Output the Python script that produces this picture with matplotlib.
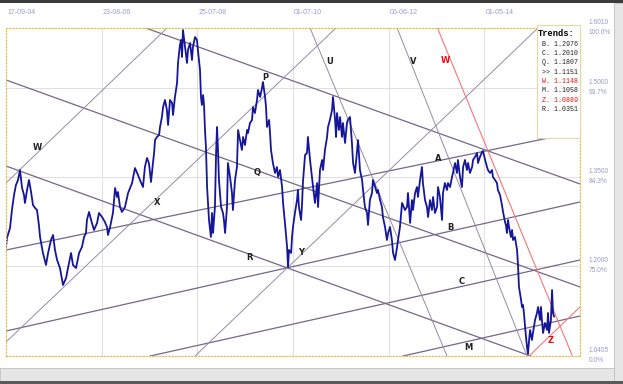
import matplotlib
matplotlib.use("Agg")
import matplotlib.pyplot as plt
from matplotlib.patches import Rectangle

# daily closes: (bar number since 17-09-04, close)
closes = [
    (0, 1.2320), (5, 1.2471), (21, 1.2639), (31, 1.2942), (42, 1.3195), (52, 1.3363),
    (63, 1.3447), (73, 1.3615), (84, 1.3312), (94, 1.3195), (99, 1.3060), (110, 1.3279),
    (120, 1.3447), (131, 1.3245), (141, 1.3026), (152, 1.2976), (162, 1.2942), (172, 1.2690),
    (178, 1.2488), (193, 1.2219), (209, 1.2017), (220, 1.2219), (235, 1.2437), (246, 1.2522),
    (256, 1.2269), (267, 1.2101), (282, 1.1966), (298, 1.1680), (314, 1.1798), (324, 1.1966),
    (340, 1.2219), (350, 1.2017), (366, 1.1966), (382, 1.2219), (397, 1.2320), (408, 1.2488),
    (418, 1.2555), (423, 1.2774), (434, 1.2909), (449, 1.2724), (460, 1.2606), (476, 1.2724),
    (486, 1.2892), (502, 1.2824), (517, 1.2740), (528, 1.2656), (533, 1.2522), (544, 1.2656),
    (559, 1.2892), (570, 1.3312), (580, 1.3161), (585, 1.3245), (596, 1.2993), (606, 1.2909),
    (622, 1.2993), (638, 1.3228), (659, 1.3396), (674, 1.3649), (690, 1.3531), (700, 1.3447),
    (716, 1.3329), (726, 1.3666), (737, 1.3817), (747, 1.3733), (758, 1.3413), (768, 1.3733),
    (774, 1.3901), (779, 1.4120), (789, 1.4171), (800, 1.4204), (805, 1.4339), (815, 1.4507),
    (821, 1.4675), (831, 1.4793), (841, 1.4625), (847, 1.4372), (857, 1.4793), (868, 1.4743),
    (873, 1.4541), (883, 1.4844), (894, 1.5079), (899, 1.5416), (909, 1.5719), (915, 1.5803),
    (920, 1.5517), (925, 1.5971), (936, 1.5685), (946, 1.5416), (951, 1.5634), (962, 1.5752),
    (972, 1.5466), (977, 1.5685), (988, 1.5853), (998, 1.5803), (1003, 1.5634), (1014, 1.5298),
    (1019, 1.4844), (1024, 1.4709), (1030, 1.4877), (1035, 1.4709), (1040, 1.4288), (1045, 1.4002),
    (1051, 1.3329), (1061, 1.2774), (1071, 1.2488), (1077, 1.2892), (1082, 1.2555), (1092, 1.2993),
    (1098, 1.3901), (1103, 1.4339), (1108, 1.3952), (1113, 1.3447), (1124, 1.2993), (1134, 1.2892),
    (1139, 1.2774), (1145, 1.2555), (1155, 1.2993), (1160, 1.3733), (1171, 1.3497), (1181, 1.3228),
    (1186, 1.2942), (1197, 1.3447), (1207, 1.3666), (1213, 1.4288), (1223, 1.4120), (1233, 1.3952),
    (1239, 1.4171), (1249, 1.4036), (1260, 1.4288), (1265, 1.4238), (1275, 1.4406), (1286, 1.4457),
    (1291, 1.4675), (1301, 1.4574), (1312, 1.4793), (1317, 1.4961), (1328, 1.4844), (1338, 1.4995),
    (1343, 1.5096), (1354, 1.4844), (1359, 1.4675), (1364, 1.4339), (1375, 1.4457), (1380, 1.4238),
    (1385, 1.3952), (1395, 1.3733), (1406, 1.3565), (1416, 1.3666), (1422, 1.3497), (1432, 1.3615),
    (1443, 1.3329), (1448, 1.3060), (1458, 1.2724), (1469, 1.2320), (1474, 1.1983), (1479, 1.2269),
    (1490, 1.2219), (1495, 1.2488), (1500, 1.2656), (1510, 1.2892), (1521, 1.3110), (1526, 1.3279),
    (1531, 1.2993), (1542, 1.2774), (1547, 1.3026), (1552, 1.3413), (1563, 1.3868), (1573, 1.3901),
    (1578, 1.4171), (1589, 1.3784), (1599, 1.3497), (1605, 1.3329), (1615, 1.3060), (1626, 1.3396),
    (1631, 1.2993), (1641, 1.3615), (1652, 1.3784), (1657, 1.3615), (1667, 1.3952), (1678, 1.4171),
    (1683, 1.4339), (1693, 1.4457), (1704, 1.4625), (1709, 1.4844), (1720, 1.4457), (1725, 1.4171),
    (1730, 1.4574), (1740, 1.4288), (1746, 1.4507), (1756, 1.4171), (1761, 1.4406), (1772, 1.4070),
    (1782, 1.4406), (1787, 1.4457), (1798, 1.4507), (1808, 1.4070), (1814, 1.3733), (1824, 1.3565),
    (1834, 1.3901), (1840, 1.4120), (1850, 1.3615), (1861, 1.3447), (1866, 1.3279), (1876, 1.2993),
    (1887, 1.2892), (1892, 1.2690), (1902, 1.3110), (1913, 1.3228), (1918, 1.3447), (1929, 1.3329),
    (1939, 1.3228), (1944, 1.3279), (1955, 1.3110), (1965, 1.2993), (1970, 1.2824), (1981, 1.2656),
    (1991, 1.2437), (1997, 1.2555), (2007, 1.2656), (2017, 1.2437), (2023, 1.2219), (2033, 1.2101),
    (2044, 1.2320), (2049, 1.2437), (2059, 1.2656), (2070, 1.3060), (2075, 1.3026), (2085, 1.2942),
    (2096, 1.2993), (2101, 1.3228), (2112, 1.2724), (2122, 1.3110), (2127, 1.2942), (2138, 1.3228),
    (2148, 1.3329), (2153, 1.3161), (2164, 1.3447), (2174, 1.3666), (2179, 1.3396), (2190, 1.3110),
    (2200, 1.2993), (2206, 1.2824), (2216, 1.3110), (2226, 1.2942), (2232, 1.3161), (2242, 1.2892),
    (2253, 1.2993), (2258, 1.3329), (2268, 1.3161), (2279, 1.2774), (2284, 1.3228), (2294, 1.3396),
    (2305, 1.3279), (2310, 1.3396), (2321, 1.3329), (2331, 1.3497), (2336, 1.3565), (2347, 1.3733),
    (2357, 1.3565), (2362, 1.3784), (2373, 1.3497), (2383, 1.3329), (2389, 1.3666), (2399, 1.3784),
    (2409, 1.3615), (2415, 1.3733), (2425, 1.3565), (2436, 1.3666), (2441, 1.3784), (2451, 1.3834),
    (2462, 1.3901), (2467, 1.3733), (2477, 1.3834), (2488, 1.3918), (2493, 1.3935), (2504, 1.3784),
    (2514, 1.3666), (2519, 1.3615), (2530, 1.3565), (2540, 1.3615), (2545, 1.3497), (2556, 1.3447),
    (2566, 1.3396), (2571, 1.3279), (2582, 1.3195), (2592, 1.3026), (2598, 1.2909), (2608, 1.2740),
    (2613, 1.2690), (2618, 1.2555), (2624, 1.2774), (2629, 1.2656), (2639, 1.2488), (2645, 1.2606),
    (2650, 1.2437), (2660, 1.2488), (2671, 1.2269), (2676, 1.2017), (2681, 1.1647), (2692, 1.1428),
    (2697, 1.1310), (2702, 1.1344), (2707, 1.1209), (2713, 1.0974), (2723, 1.0637), (2728, 1.0519),
    (2734, 1.0755), (2739, 1.0923), (2749, 1.0755), (2754, 1.0873), (2765, 1.1091), (2775, 1.1209),
    (2781, 1.1310), (2791, 1.1091), (2796, 1.1310), (2801, 1.1091), (2807, 1.0873), (2817, 1.1041),
    (2828, 1.0923), (2833, 1.1209), (2838, 1.0873), (2848, 1.1091), (2854, 1.1596), (2859, 1.1209),
    (2864, 1.1151),
]

# trend lines as (bar0, price0, bar1, price1)
dark_trends = [
    (716, 1.6021, 3000, 1.3380),   # upper channel
    (0, 1.5130, 3000, 1.1647),     # Q
    (0, 1.3682, 3000, 1.0183),     # R
    (0, 1.0906, 3000, 1.3077),     # B
    (0, 1.2269, 3000, 1.4263),     # A
    (753, 1.0485, 3000, 1.2101),   # C
    (2075, 1.0485, 3000, 1.1159),  # M
]
light_trends = [
    (0, 1.3396, 847, 1.6021),      # W
    (0, 1.0721, 1730, 1.6021),     # X
    (988, 1.0485, 2775, 1.5988),   # Y
    (1589, 1.6005, 2305, 1.0485),  # U
    (2044, 1.6005, 2723, 1.0485),  # V
]
red_trends = [
    (2253, 1.6021, 2958, 1.0502),  # W
    (2739, 1.0502, 3000, 1.1310),  # Z
]

line_names = ["W", "X", "P", "Q", "R", "Y", "U", "V", "W", "A", "B", "C", "M", "Z"]
name_bars = [162, 789, 1354, 1312, 1275, 1542, 1693, 2127, 2294, 2258, 2321, 2383, 2415, 2848]
name_prices = [1.4002, 1.3060, 1.5180, 1.3565, 1.2135, 1.2235, 1.5433, 1.5433, 1.5466,
               1.3817, 1.2656, 1.1731, 1.0637, 1.0738]
name_red = ["W", "Z"]

date_bars = [0, 500, 1000, 1500, 2000, 2500]
date_labels = ["17-09-04", "23-08-06", "25-07-08", "01-07-10", "06-06-12", "01-05-14"]

grid_prices = [1.5, 1.35, 1.2]
scale_prices = [1.6010, 1.5000, 1.3500, 1.2000, 1.0405]
scale_pct = ["100.0%", "93.7%", "84.3%", "75.0%", "0.0%"]

trend_keys = ["B.", "C.", "Q.", ">>", "W.", "M.", "Z.", "R."]
trend_values = [1.2976, 1.2010, 1.1807, 1.1151, 1.1148, 1.1058, 1.0889, 1.0351]
red_keys = ["W.", "Z."]

W, H = 623, 384
fig = plt.figure(figsize=(W / 100, H / 100), dpi=100)
fig.patch.set_facecolor("white")


def px_rect(x0, y0, x1, y1, **kw):
    fig.add_artist(Rectangle((x0 / W, 1 - y1 / H), (x1 - x0) / W, (y1 - y0) / H,
                             transform=fig.transFigure, **kw))


ax = fig.add_axes([6 / W, (H - 355.5) / H, 574 / W, 328 / H])
ax.set_xlim(0, 3000)
ax.set_ylim(1.0494, 1.6013)
ax.set_xticks([])
ax.set_yticks([])
for s in ax.spines.values():
    s.set_color("#e3c05a")
    s.set_linestyle((0, (1, 1.6)))
    s.set_linewidth(0.9)

for b in date_bars[1:]:
    ax.axvline(b, color="#e0e0e0", lw=0.7, zorder=0)
for p in grid_prices:
    ax.axhline(p, color="#e0e0e0", lw=0.7, zorder=0)

for b0, p0, b1, p1 in dark_trends:
    ax.plot([b0, b1], [p0, p1], color="#76668a", lw=0.9, zorder=1)
for b0, p0, b1, p1 in light_trends:
    ax.plot([b0, b1], [p0, p1], color="#968aa6", lw=0.7, zorder=1)
for b0, p0, b1, p1 in red_trends:
    ax.plot([b0, b1], [p0, p1], color="#f07878", lw=0.8, zorder=1)

bars = [c[0] for c in closes]
price = [c[1] for c in closes]
ax.plot(bars, price, color="#16169a", lw=1.3, zorder=2)

for i, n in enumerate(line_names):
    col = "#e01010" if (n in name_red and name_bars[i] > 2200) else "#202020"
    ax.text(name_bars[i], name_prices[i], n, ha="center", va="center",
            fontsize=6, fontweight="bold", color=col, zorder=3)

for b, lbl in zip(date_bars, date_labels):
    ax.annotate(lbl, xy=(b, 1), xycoords=("data", "axes fraction"), xytext=(1, 14.5),
                textcoords="offset pixels", ha="left", va="center", fontsize=5,
                family="Liberation Sans", color="#9a9acc", annotation_clip=False)

y0, y1 = ax.get_ylim()
for p, pct in zip(scale_prices, scale_pct):
    yp = min(max(p, y0), y1)
    ax.annotate(f"{p:.4f}", xy=(1.0157, yp), xycoords=("axes fraction", "data"),
                xytext=(0, 5), textcoords="offset pixels", ha="left", va="center",
                fontsize=4.8, family="Liberation Sans", color="#9a9acc", annotation_clip=False)
    ax.annotate(pct, xy=(1.0157, yp), xycoords=("axes fraction", "data"),
                xytext=(0, -5), textcoords="offset pixels", ha="left", va="center",
                fontsize=4.8, family="Liberation Sans", color="#9a9acc", annotation_clip=False)

# legend box with current trend values
px_rect(537, 25, 580, 138, facecolor="white", edgecolor="#e6d6a8", lw=0.8, zorder=5)
fig.text(538 / W, 1 - 33 / H, "Trends:", fontsize=6.3, family="Liberation Mono",
         fontweight="bold", va="center", ha="left", zorder=6)
for i, (k, v) in enumerate(zip(trend_keys, trend_values)):
    col = "#e01010" if k in red_keys else "#202020"
    fig.text(541.5 / W, 1 - (44 + i * 9.4) / H, f"{k} {v:.4f}", fontsize=4.8,
             family="Liberation Mono", va="center", ha="left", color=col, zorder=6)

# window chrome: top border and scroll bars
px_rect(0, 0, W, 3, facecolor="#3c3c3c", edgecolor="none", zorder=4)
px_rect(614, 3, W, H, facecolor="#e6e6e6", edgecolor="#c0c0c0", lw=0.6, zorder=4)
px_rect(0, 368, 614, H, facecolor="#e6e6e6", edgecolor="#c0c0c0", lw=0.6, zorder=4)
px_rect(0, 381, W, H, facecolor="#5a5a5a", edgecolor="none", zorder=4)

fig.savefig("out.png", dpi=100)
